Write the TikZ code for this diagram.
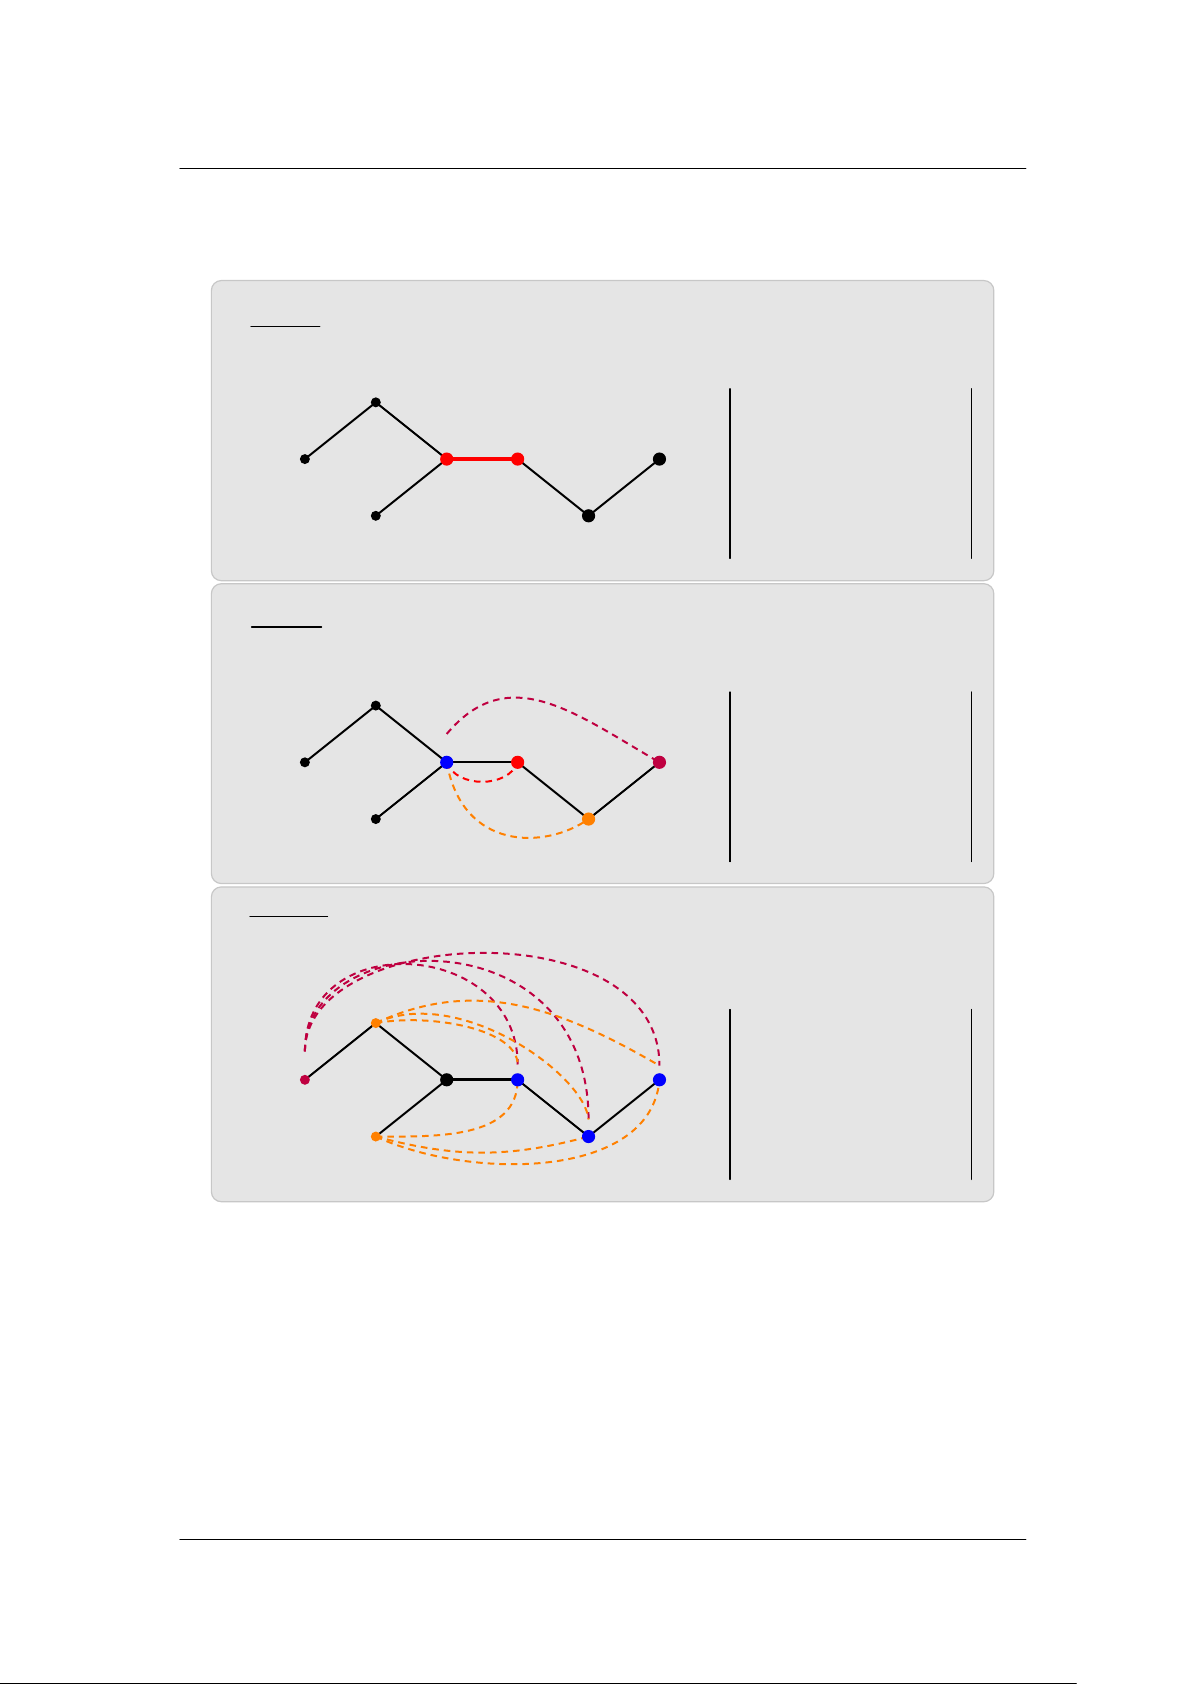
\documentclass[tikz,border=0pt]{standalone}
\usepackage{tkz-euclide}
\tikzset{>=stealth}
\tikzset{panel/.style={draw=black!22, fill=black!10, line width=0.6pt, rounded corners=5pt},
  seg/.style={line width=1pt},
  segbold/.style={line width=1.6pt},
  bar/.style={line width=0.6pt},
  arcdash/.style={line width=1pt, dash pattern=on 3.3pt off 2.5pt}}

\begin{document}
\begin{tikzpicture}
\useasboundingbox (0,0) rectangle (21,29.7);
% page rules
\tkzDefPoints{3.17/26.735/H1, 18.08/26.735/H2, 3.17/2.563/H3, 18.08/2.563/H4, 0/0.03/H5, 18.97/0.03/H6}
\tkzDrawSegments[bar](H1,H2 H3,H4)
\tkzDrawSegments[line width=0.5pt](H5,H6)

% panels
\draw[panel] (3.726,19.464) rectangle (17.517,24.755);
\draw[panel] (3.726,14.126) rectangle (17.517,19.411);
\draw[panel] (3.726,8.518) rectangle (17.517,14.067);

% first panel
\begin{scope}[shift={(5.374,21.608)}]
\tkzDefPoints{0/0/A1, 1.25/1/B1, 1.25/-1/C1, 2.5/0/D1, 3.75/0/E1, 5/-1/F1, 6.25/0/G1}
\tkzDefPoints{-0.952/2.343/U1, 0.264/2.343/V1, 7.493/1.24/L1, 7.493/-1.75/M1, 11.746/1.24/R1, 11.746/-1.75/Q1}
\tkzDrawSegments[bar](U1,V1 L1,M1 R1,Q1)
\tkzDrawSegments[seg](A1,B1 B1,D1 C1,D1 E1,F1 F1,G1)
\tkzDrawSegments[segbold,red](D1,E1)
\foreach \p in {A1,B1,C1} \fill (\p) circle (2.5pt);
\foreach \p in {F1,G1} \fill (\p) circle (3.3pt);
\foreach \p in {D1,E1} \fill[red] (\p) circle (3.3pt);
\end{scope}

% second panel
\begin{scope}[shift={(5.374,16.263)}]
\tkzDefPoints{0/0/A2, 1.25/1/B2, 1.25/-1/C2, 2.5/0/D2, 3.75/0/E2, 5/-1/F2, 6.25/0/G2, 2.5/0.5/S2}
\tkzDefPoints{-0.94/2.385/U2, 0.294/2.385/V2, 7.493/1.24/L2, 7.493/-1.75/M2, 11.746/1.24/R2, 11.746/-1.75/Q2}
\tkzDrawSegments[bar](U2,V2 L2,M2 R2,Q2)
\tkzDrawSegments[seg](A2,B2 B2,D2 C2,D2 D2,E2 E2,F2 F2,G2)
\draw[arcdash,purple] (S2) to[out=50,in=150,looseness=1.15] (G2);
\draw[arcdash,red] (D2) to[out=-70,in=-110] (E2);
\draw[arcdash,orange] (D2) to[out=-80,in=-145,out looseness=1.5,in looseness=0.9] (F2);
\foreach \p in {A2,B2,C2} \fill (\p) circle (2.5pt);
\fill[blue] (D2) circle (3.3pt);
\fill[red] (E2) circle (3.3pt);
\fill[orange] (F2) circle (3.3pt);
\fill[purple] (G2) circle (3.3pt);
\end{scope}

% third panel
\begin{scope}[shift={(5.374,10.667)}]
\tkzDefPoints{0/0/A3, 1.25/1/B3, 1.25/-1/C3, 2.5/0/D3, 3.75/0/E3, 5/-1/F3, 6.25/0/G3}
\tkzDefPoints{0/0.5/S3, 3.75/0.27/P3, 5/-0.7/N3, 6.25/0.25/W3}
\tkzDefPoints{-0.969/2.872/U3, 0.399/2.872/V3, 7.493/1.24/L3, 7.493/-1.756/M3, 11.746/1.24/R3, 11.746/-1.756/Q3}
\tkzDrawSegments[bar](U3,V3 L3,M3 R3,Q3)
\tkzDrawSegments[seg](A3,B3 B3,D3 C3,D3 E3,F3 F3,G3)
\tkzDrawSegments[segbold](D3,E3)
\draw[arcdash,purple] (S3) to[out=90,in=90,out looseness=1.5,in looseness=1.5] (P3);
\draw[arcdash,purple] (S3) to[out=90,in=90,out looseness=1.09,in looseness=1.8] (N3);
\draw[arcdash,purple] (S3) to[out=90,in=90,out looseness=0.9,in looseness=1.13] (W3);
\draw[arcdash,orange] (B3) to[out=10,in=90,in looseness=0.6] (P3);
\draw[arcdash,orange] (B3) to[out=25,in=95,in looseness=0.5] (N3);
\draw[arcdash,orange] (B3) to[out=25,in=150] (W3);
\draw[arcdash,orange] (C3) to[out=0,in=-90] (E3);
\draw[arcdash,orange] (C3) to[bend right=15] (F3);
\draw[arcdash,orange] (C3) to[out=-25,in=-95,looseness=0.9] (G3);
\fill[purple] (A3) circle (2.5pt);
\foreach \p in {B3,C3} \fill[orange] (\p) circle (2.5pt);
\fill (D3) circle (3.3pt);
\foreach \p in {E3,F3,G3} \fill[blue] (\p) circle (3.3pt);
\end{scope}
\end{tikzpicture}
\end{document}
